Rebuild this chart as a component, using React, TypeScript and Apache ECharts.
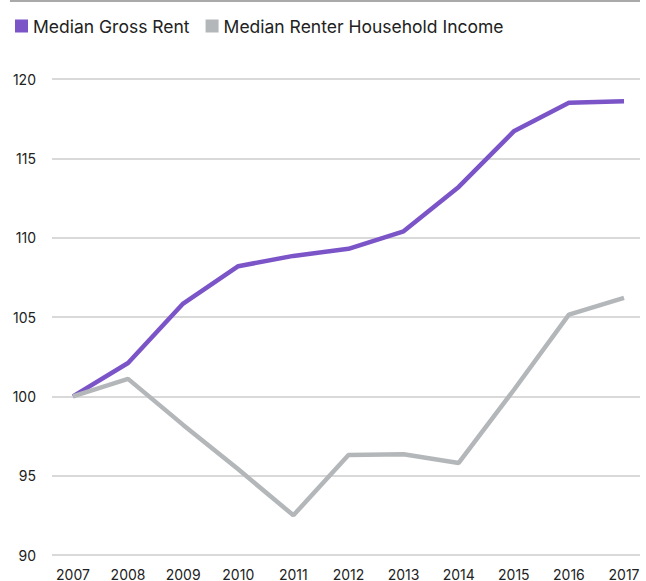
import React, { useEffect, useRef } from "react";
import * as echarts from "echarts";

const years = [2007, 2008, 2009, 2010, 2011, 2012, 2013, 2014, 2015, 2016, 2017];
const grossRent = [100, 102.1, 105.85, 108.2, 108.85, 109.3, 110.4, 113.2, 116.7, 118.5, 118.6];
const renterIncome = [100, 101.1, 98.2, 95.4, 92.5, 96.3, 96.35, 95.8, 100.4, 105.15, 106.2];
const seriesNames = ["Median Gross Rent", "Median Renter Household Income"];
const yTicks = [90, 95, 100, 105, 110, 115, 120];

const FONT = "Inter, Roboto, sans-serif";

export default function App() {
  const ref = useRef<HTMLDivElement>(null);
  useEffect(() => {
    if (!ref.current) return;
    const chart = echarts.init(ref.current, undefined, { renderer: "svg" });
    chart.setOption({
      animation: false,
      backgroundColor: "#ffffff",
      graphic: [
        {
          type: "line",
          shape: { x1: 10, y1: 1, x2: 640, y2: 1 },
          style: { stroke: "#a9a9a9", lineWidth: 2 },
        },
      ],
      legend: {
        left: 10,
        top: 12,
        icon: "rect",
        itemWidth: 13,
        itemHeight: 13,
        itemGap: 16,
        textStyle: { fontFamily: FONT, fontSize: 17.5, color: "#222" },
        data: seriesNames,
      },
      grid: { left: 52, right: 6, top: 79, bottom: 25, containLabel: false },
      xAxis: {
        type: "value",
        min: 2006.62,
        max: 2017.29,
        axisLine: { show: false },
        axisTick: { show: false },
        splitLine: { show: false },
        axisLabel: {
          customValues: years,
          formatter: (v: number) => String(Math.round(v)),
          fontFamily: FONT,
          fontSize: 14,
          color: "#222",
          margin: 12,
        },
      },
      yAxis: {
        type: "value",
        min: 90,
        max: 120,
        interval: 5,
        axisLine: { show: false },
        axisTick: { show: false },
        splitLine: { lineStyle: { color: "#cccccc", width: 1.5 } },
        axisLabel: {
          customValues: yTicks,
          fontFamily: FONT,
          fontSize: 14,
          color: "#222",
          margin: 16,
        },
      },
      series: [
        {
          name: seriesNames[0],
          type: "line",
          data: years.map((y, i) => [y, grossRent[i]]),
          symbol: "none",
          lineStyle: { color: "#7b55c8", width: 4.5 },
          itemStyle: { color: "#7b55c8" },
        },
        {
          name: seriesNames[1],
          type: "line",
          data: years.map((y, i) => [y, renterIncome[i]]),
          symbol: "none",
          lineStyle: { color: "#b4b7b9", width: 4.5 },
          itemStyle: { color: "#b4b7b9" },
        },
      ],
    });
    return () => chart.dispose();
  }, []);
  return (
    <div
      ref={ref}
      style={{ position: "fixed", left: 0, top: 0, width: 646, height: 581 }}
    />
  );
}
